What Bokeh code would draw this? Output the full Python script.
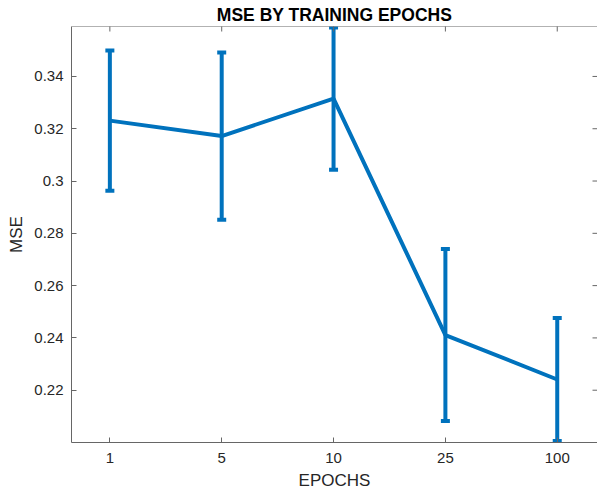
import math
from bokeh.plotting import figure
from bokeh.models import ColumnDataSource, Range1d, FixedTicker, Whisker, TeeHead
from bokeh.embed import file_html
from bokeh.resources import INLINE

# ---- data ----
categories = ["1", "5", "10", "25", "100"]
mse = [0.3231, 0.3172, 0.3315, 0.2411, 0.2241]
errors = [0.0268, 0.0320, 0.0272, 0.0329, 0.0235]
y_ticks = [0.22, 0.24, 0.26, 0.28, 0.30, 0.32, 0.34]
y_tick_labels = ["0.22", "0.24", "0.26", "0.28", "0.3", "0.32", "0.34"]
title_text = "MSE BY TRAINING EPOCHS"
x_label = "EPOCHS"
y_label = "MSE"

X0, X1 = 0.657, 5.36
Y0, Y1 = 0.2, 0.3591

xs = list(range(1, len(categories) + 1))
src = ColumnDataSource(dict(
    x=xs, y=mse,
    upper=[m + e for m, e in zip(mse, errors)],
    lower=[m - e for m, e in zip(mse, errors)],
))

BLUE = "#0072BD"
AX = "#666666"
TXT = "#262626"
FONT = "Liberation Sans"

p = figure(width=597, height=495, output_backend="svg", toolbar_location=None,
           x_range=Range1d(X0, X1), y_range=Range1d(Y0, Y1),
           min_border_left=71, min_border_top=26, min_border_bottom=53,
           min_border_right=0)
p.grid.visible = False
p.outline_line_color = None
p.background_fill_color = "white"
p.border_fill_color = "white"

p.title.text = title_text
p.title.align = "center"
p.title.text_font = FONT
p.title.text_font_size = "17.5px"
p.title.text_font_style = "bold"
p.title.text_color = "black"
p.title.standoff = 3

# box: top edge line and inward ticks on top/right (clipped markers)
p.line(x=[X0, X1], y=[Y1, Y1], line_color=AX, line_width=1)
p.scatter(x=xs, y=[Y1] * len(xs), marker="dash", angle=math.pi / 2, size=10,
          line_color=AX, line_width=1)
p.scatter(x=[X1] * len(y_ticks), y=y_ticks, marker="dash", size=10,
          line_color=AX, line_width=1)

p.line("x", "y", source=src, line_width=4, line_color=BLUE)
wh = Whisker(source=src, base="x", upper="upper", lower="lower",
             line_color=BLUE, line_width=4,
             upper_head=TeeHead(size=9, line_color=BLUE, line_width=4),
             lower_head=TeeHead(size=9, line_color=BLUE, line_width=4))
p.add_layout(wh)

def style_axis(ax):
    ax.axis_line_color = AX
    ax.axis_line_width = 1
    ax.major_tick_line_color = AX
    ax.major_tick_in = 5
    ax.major_tick_out = 0
    ax.minor_tick_line_color = None
    ax.major_label_text_font = FONT
    ax.major_label_text_font_size = "15px"
    ax.major_label_text_color = TXT
    ax.axis_label_text_font = FONT
    ax.axis_label_text_font_size = "17px"
    ax.axis_label_text_font_style = "normal"
    ax.axis_label_text_color = TXT

xax = p.xaxis[0]
xax.ticker = FixedTicker(ticks=xs)
xax.major_label_overrides = {i: c for i, c in zip(xs, categories)}
xax.axis_label = x_label
style_axis(xax)
xax.major_label_standoff = 10
xax.axis_label_standoff = 5

yax = p.yaxis[0]
yax.ticker = FixedTicker(ticks=y_ticks)
yax.major_label_overrides = {t: l for t, l in zip(y_ticks, y_tick_labels)}
yax.axis_label = y_label
style_axis(yax)
yax.major_label_standoff = 8
yax.axis_label_standoff = 5

open("out.html", "w").write(file_html(p, INLINE))
